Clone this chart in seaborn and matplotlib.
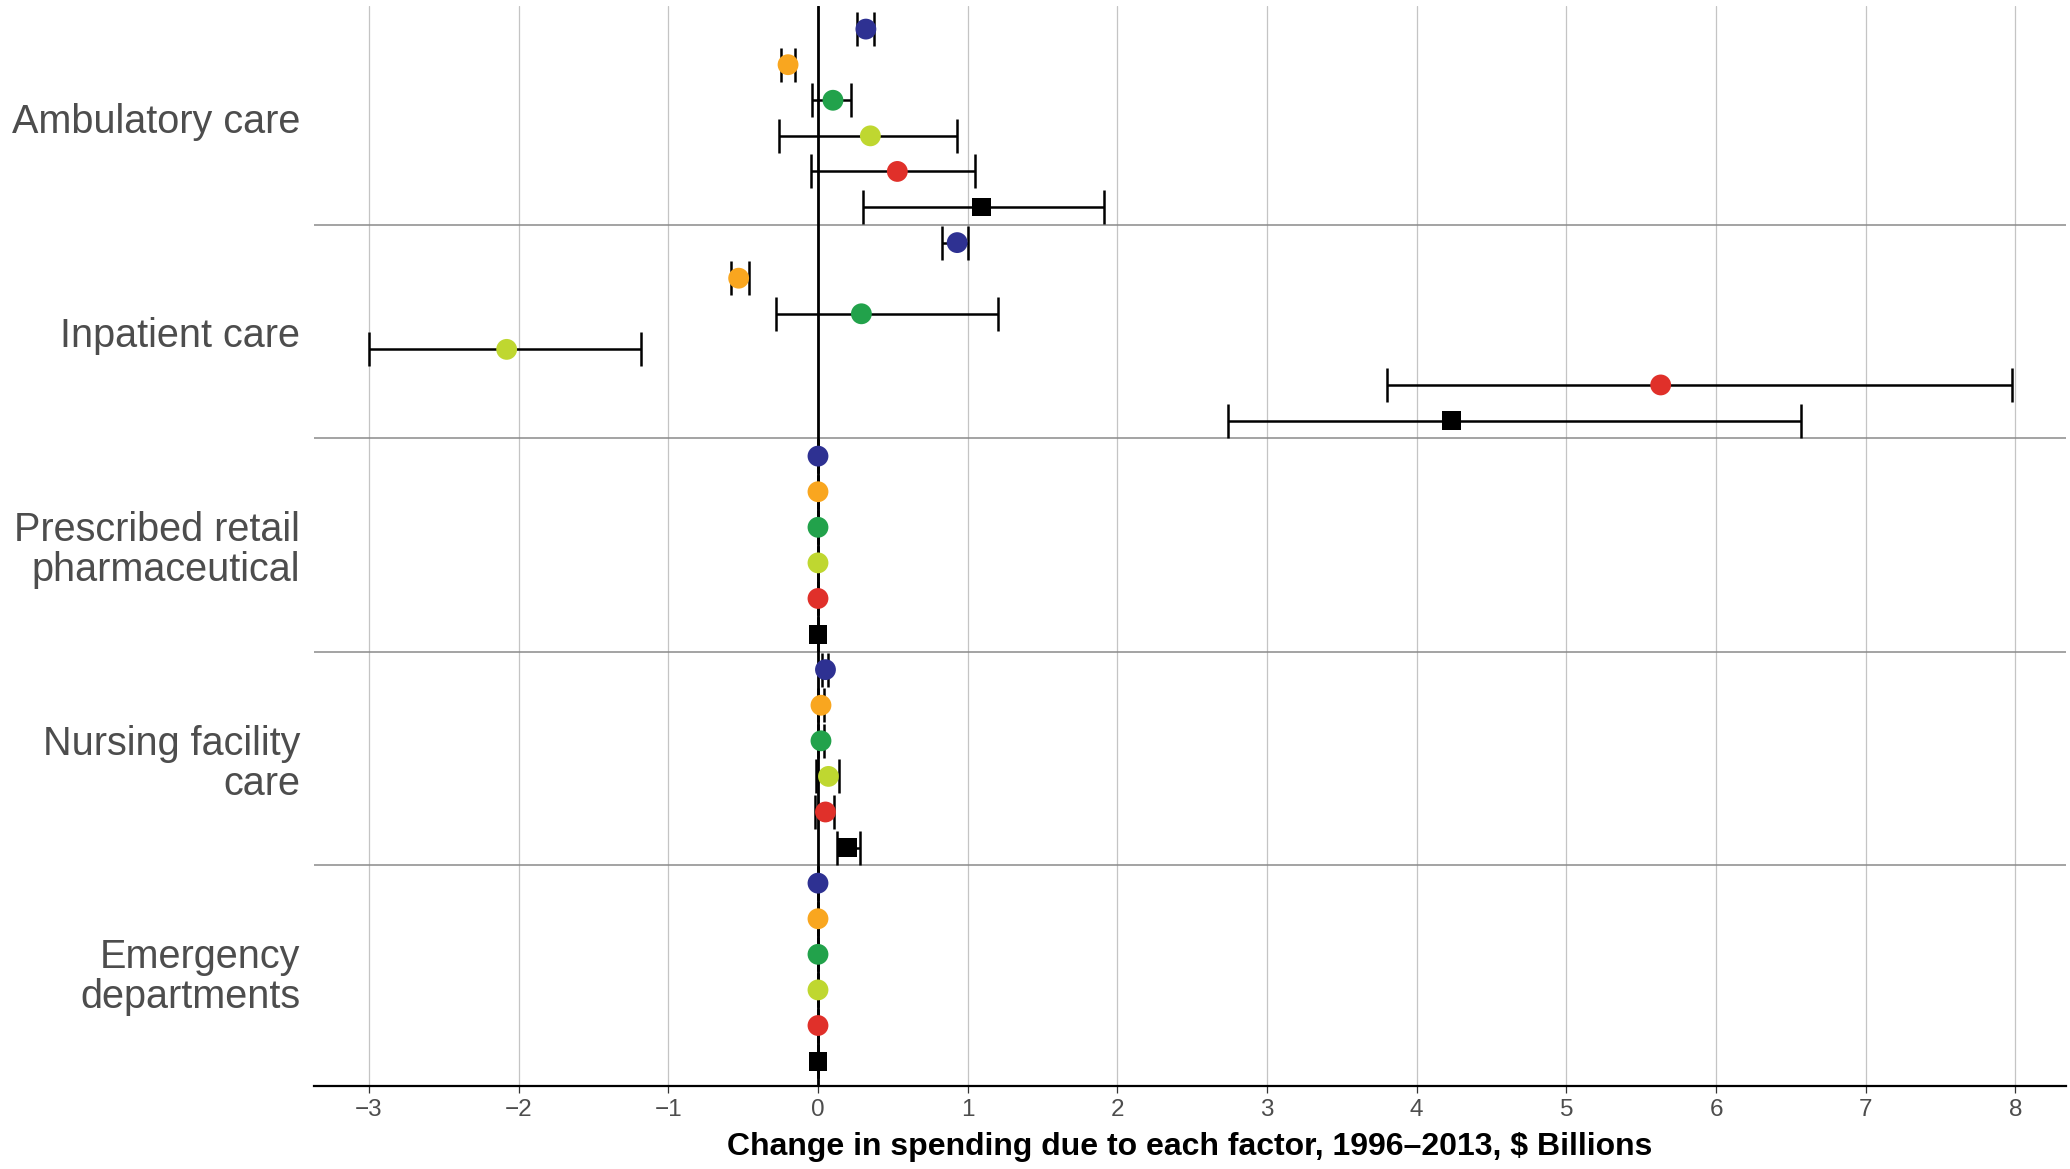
import numpy as np
import pandas as pd
import matplotlib
matplotlib.use("Agg")
import matplotlib.pyplot as plt
import seaborn as sns

# ---------------- data ----------------
categories = ["Ambulatory care", "Inpatient care", "Prescribed retail\npharmaceutical",
              "Nursing facility\ncare", "Emergency\ndepartments"]
factors = ["Population size", "Population age", "Disease prevalence",
           "Service utilization", "Service price and intensity", "Total"]

amb_est = [0.32, -0.20, 0.10, 0.35, 0.53, 1.09]
amb_lo = [0.26, -0.25, -0.04, -0.26, -0.05, 0.30]
amb_hi = [0.375, -0.155, 0.22, 0.93, 1.05, 1.91]

inp_est = [0.93, -0.53, 0.29, -2.08, 5.63, 4.23]
inp_lo = [0.83, -0.58, -0.28, -3.00, 3.80, 2.74]
inp_hi = [1.00, -0.46, 1.20, -1.18, 7.98, 6.57]

pha_est = [0.0, 0.0, 0.0, 0.0, 0.0, 0.0]
pha_lo = [0.0, 0.0, 0.0, 0.0, 0.0, 0.0]
pha_hi = [0.0, 0.0, 0.0, 0.0, 0.0, 0.0]

nur_est = [0.05, 0.02, 0.02, 0.07, 0.05, 0.20]
nur_lo = [0.03, 0.00, 0.00, -0.01, -0.02, 0.125]
nur_hi = [0.07, 0.04, 0.04, 0.14, 0.11, 0.28]

emd_est = [0.0, 0.0, 0.0, 0.0, 0.0, 0.0]
emd_lo = [0.0, 0.0, 0.0, 0.0, 0.0, 0.0]
emd_hi = [0.0, 0.0, 0.0, 0.0, 0.0, 0.0]

x_ticks = [-3, -2, -1, 0, 1, 2, 3, 4, 5, 6, 7, 8]
x_label = "Change in spending due to each factor, 1996\u20132013, $ Billions"

factor_colors = {
    "Population size": "#2E3192",
    "Population age": "#F9A61F",
    "Disease prevalence": "#22A24B",
    "Service utilization": "#BFD730",
    "Service price and intensity": "#E0302A",
    "Total": "#000000",
}

# ---------------- table ----------------
est_all = [amb_est, inp_est, pha_est, nur_est, emd_est]
lo_all = [amb_lo, inp_lo, pha_lo, nur_lo, emd_lo]
hi_all = [amb_hi, inp_hi, pha_hi, nur_hi, emd_hi]
rows = []
for ci, cat in enumerate(categories):
    for fi, fac in enumerate(factors):
        rows.append({
            "category": cat, "factor": fac,
            "row": ci * len(factors) + fi,
            "est": est_all[ci][fi], "lo": lo_all[ci][fi], "hi": hi_all[ci][fi],
            "shape": "square" if fac == "Total" else "circle",
        })
df = pd.DataFrame(rows)

# ---------------- style ----------------
sns.set_theme(style="white")
plt.rcParams["font.family"] = ["Liberation Sans", "DejaVu Sans"]

fig = plt.figure(figsize=(20.70, 11.69), dpi=100)
ax = fig.add_axes([0.1517, 0.0710, 0.8463, 0.9239])

n_rows = len(df)
ax.set_xlim(-3.367, 8.337)
ax.set_ylim(n_rows - 1 + 0.70, -0.65)

# grid
for t in x_ticks:
    ax.axvline(t, color="#C4C4C4", lw=0.9, zorder=0.5)
for k in range(1, len(categories)):
    ax.axhline(k * len(factors) - 0.5, color="#8A8A8A", lw=1.1, zorder=0.6)
ax.axvline(0, color="black", lw=2.0, zorder=1)

# error bars
ax.errorbar(df["est"], df["row"],
            xerr=[df["est"] - df["lo"], df["hi"] - df["est"]],
            fmt="none", ecolor="black", elinewidth=1.8, capsize=12,
            capthick=1.8, zorder=2)

# points
sns.scatterplot(data=df, x="est", y="row", hue="factor", palette=factor_colors,
                hue_order=factors, style="shape",
                markers={"circle": "o", "square": "s"},
                size="shape", sizes={"circle": 225, "square": 185},
                linewidth=0, legend=False, ax=ax, zorder=3)

# axes styling
for side in ["top", "right", "left"]:
    ax.spines[side].set_visible(False)
ax.spines["bottom"].set_color("black")
ax.spines["bottom"].set_linewidth(1.6)

ax.set_xticks(x_ticks)
ax.set_xticklabels([f"{t}".replace("-", "\u2212") for t in x_ticks])
ax.tick_params(axis="x", which="both", bottom=True, length=5, width=0.9,
               color="#333333", labelsize=17.5, labelcolor="#4D4D4D", pad=4)

centers = [ci * len(factors) + (len(factors) - 1) / 2 for ci in range(len(categories))]
ax.set_yticks(centers)
ax.set_yticklabels(categories)
ax.tick_params(axis="y", length=0, labelsize=28.5, labelcolor="#4D4D4D", pad=10)
for t in ax.get_yticklabels():
    t.set_linespacing(1.07)
    t.set_horizontalalignment("right")

ax.set_xlabel(x_label, fontsize=23, fontweight="bold", color="black", labelpad=8)
ax.set_ylabel("")

fig.savefig("out.png", dpi=100)
